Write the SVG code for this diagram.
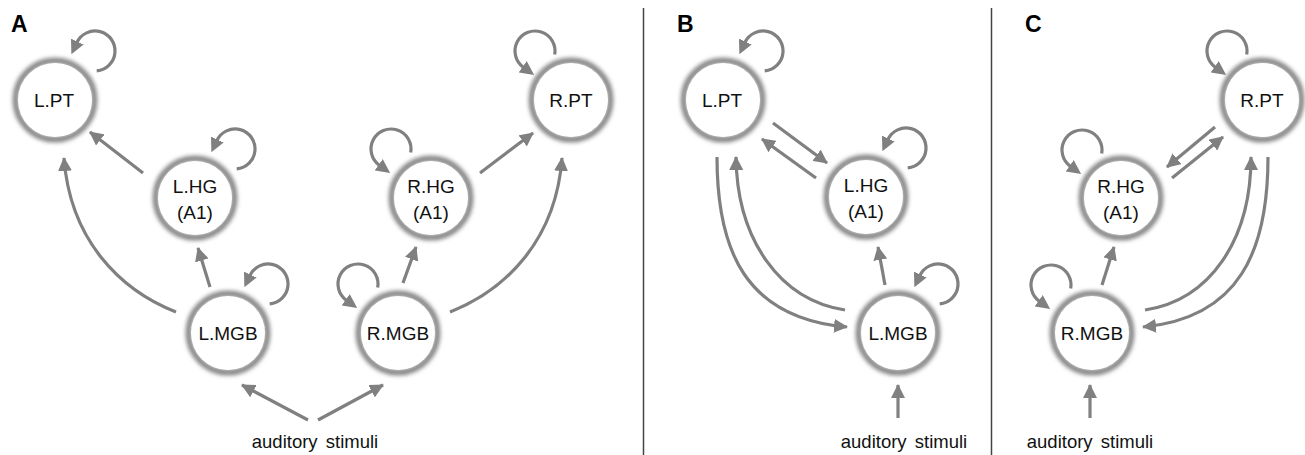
<svg xmlns="http://www.w3.org/2000/svg" width="1305" height="455" viewBox="0 0 1305 455">
<style>
.ring{fill:none;stroke:#7c7c7c;stroke-width:5.5;filter:url(#glow)}
.disc{fill:#fff}
.lbl{font-family:"Liberation Sans",Arial,sans-serif;font-size:19px;fill:#111;text-anchor:middle}
.panel{font-family:"Liberation Sans",Arial,sans-serif;font-size:23px;font-weight:bold;fill:#000}
.stim{font-family:"Liberation Sans",Arial,sans-serif;font-size:18.5px;fill:#111;text-anchor:middle;word-spacing:3px}
.e{fill:none;stroke:#808080;stroke-width:3.2}
.t{marker-end:url(#ht)}
.b{marker-end:url(#hb)}
.div{stroke:#444;stroke-width:1.5}
</style>
<defs>
<filter id="glow" x="-30%" y="-30%" width="160%" height="160%"><feGaussianBlur stdDeviation="1.9"/></filter>
<marker id="ht" viewBox="0 0 14 14" refX="13" refY="7" markerWidth="14" markerHeight="14" markerUnits="userSpaceOnUse" orient="auto"><path d="M0,0 L14,7 L0,14 z" fill="#808080"/></marker>
<marker id="hb" viewBox="0 0 14 14" refX="1" refY="7" markerWidth="14" markerHeight="14" markerUnits="userSpaceOnUse" orient="auto"><path d="M0,0 L14,7 L0,14 z" fill="#808080"/></marker>
</defs>
<rect width="1305" height="455" fill="#fff"/>
<line class="div" x1="643.5" y1="8" x2="643.5" y2="455"/>
<line class="div" x1="991.5" y1="8" x2="991.5" y2="455"/>
<text class="panel" x="11" y="32">A</text>
<text class="panel" x="677" y="32">B</text>
<text class="panel" x="1025" y="32">C</text>
<g id="connectors">
<!-- Panel A -->
<path class="e t" d="M143,173 L90,132"/>
<path class="e t" d="M480,173 L533,133"/>
<path class="e t" d="M210,287 L198,248"/>
<path class="e t" d="M403,283 L416,247"/>
<path class="e t" d="M176,312 C120,290 70,240 64,158"/>
<path class="e t" d="M450,312 C506,290 556,240 562,158"/>
<path class="e t" d="M308,420 L242,385"/>
<path class="e t" d="M318,420 L383,385"/>
<path class="e b" d="M96.7,70.9 A20,20 0 1 0 76.9,42.5"/>
<path class="e b" d="M236.7,168.9 A20,20 0 1 0 216.9,140.5"/>
<path class="e b" d="M269.7,303.9 A20,20 0 1 0 249.9,275.5"/>
<path class="e b" d="M554.7,54.5 A20,20 0 1 0 523.5,67.4"/>
<path class="e b" d="M410.7,152.5 A20,20 0 1 0 379.5,165.4"/>
<path class="e b" d="M377.7,287.5 A20,20 0 1 0 346.5,300.4"/>
<!-- Panel B -->
<path class="e t" d="M773,123 L827,163"/>
<path class="e t" d="M816,178 L762,139"/>
<path class="e t" d="M885,285 L878,247"/>
<path class="e t" d="M898,418 L898,385"/>
<path class="e t" d="M717,157 C717,250 745,318 847,327"/>
<path class="e t" d="M845,310 C780,300 737,240 736,157"/>
<path class="e b" d="M764.7,70.9 A20,20 0 1 0 744.9,42.5"/>
<path class="e b" d="M907.7,167.9 A20,20 0 1 0 887.9,139.5"/>
<path class="e b" d="M939.7,303.9 A20,20 0 1 0 919.9,275.5"/>
<!-- Panel C -->
<path class="e t" d="M1215,127 L1167,167"/>
<path class="e t" d="M1172,178 L1223,137"/>
<path class="e t" d="M1102,285 L1114,247"/>
<path class="e t" d="M1090,418 L1090,385"/>
<path class="e t" d="M1268,157 C1268,250 1240,318 1143,327"/>
<path class="e t" d="M1145,310 C1210,300 1251,240 1251,157"/>
<path class="e b" d="M1246.7,54.5 A20,20 0 1 0 1215.5,67.4"/>
<path class="e b" d="M1101.7,153.5 A20,20 0 1 0 1070.5,166.4"/>
<path class="e b" d="M1070.7,288.5 A20,20 0 1 0 1039.5,301.4"/>
</g>
<g id="A_LPT"><circle class="ring" cx="55" cy="100" r="39.5"/><circle class="disc" cx="55" cy="100" r="37"/><text class="lbl" x="54" y="107">L.PT</text></g>
<g id="A_RPT"><circle class="ring" cx="571" cy="100" r="39.5"/><circle class="disc" cx="571" cy="100" r="37"/><text class="lbl" x="571" y="107">R.PT</text></g>
<g id="A_LHG"><circle class="ring" cx="195" cy="198" r="39.5"/><circle class="disc" cx="195" cy="198" r="37"/><text class="lbl" x="195" y="193">L.HG</text><text class="lbl" x="195" y="219">(A1)</text></g>
<g id="A_RHG"><circle class="ring" cx="431" cy="198" r="39.5"/><circle class="disc" cx="431" cy="198" r="37"/><text class="lbl" x="431" y="193">R.HG</text><text class="lbl" x="431" y="219">(A1)</text></g>
<g id="A_LMGB"><circle class="ring" cx="228" cy="333" r="39.5"/><circle class="disc" cx="228" cy="333" r="37"/><text class="lbl" x="228" y="340">L.MGB</text></g>
<g id="A_RMGB"><circle class="ring" cx="398" cy="333" r="39.5"/><circle class="disc" cx="398" cy="333" r="37"/><text class="lbl" x="398" y="340">R.MGB</text></g>
<g id="A_stim"><text class="stim" x="315" y="448">auditory stimuli</text></g>
<g id="B_LPT"><circle class="ring" cx="723" cy="100" r="39.5"/><circle class="disc" cx="723" cy="100" r="37"/><text class="lbl" x="722" y="107">L.PT</text></g>
<g id="B_LHG"><circle class="ring" cx="866" cy="197" r="39.5"/><circle class="disc" cx="866" cy="197" r="37"/><text class="lbl" x="866" y="192">L.HG</text><text class="lbl" x="866" y="218">(A1)</text></g>
<g id="B_LMGB"><circle class="ring" cx="898" cy="333" r="39.5"/><circle class="disc" cx="898" cy="333" r="37"/><text class="lbl" x="898" y="340">L.MGB</text></g>
<g id="B_stim"><text class="stim" x="904" y="448">auditory stimuli</text></g>
<g id="C_RPT"><circle class="ring" cx="1262" cy="100" r="39.5"/><circle class="disc" cx="1262" cy="100" r="37"/><text class="lbl" x="1262" y="107">R.PT</text></g>
<g id="C_RHG"><circle class="ring" cx="1121" cy="198" r="39.5"/><circle class="disc" cx="1121" cy="198" r="37"/><text class="lbl" x="1121" y="193">R.HG</text><text class="lbl" x="1121" y="219">(A1)</text></g>
<g id="C_RMGB"><circle class="ring" cx="1092" cy="333" r="39.5"/><circle class="disc" cx="1092" cy="333" r="37"/><text class="lbl" x="1092" y="340">R.MGB</text></g>
<g id="C_stim"><text class="stim" x="1090" y="448">auditory stimuli</text></g>
</svg>
